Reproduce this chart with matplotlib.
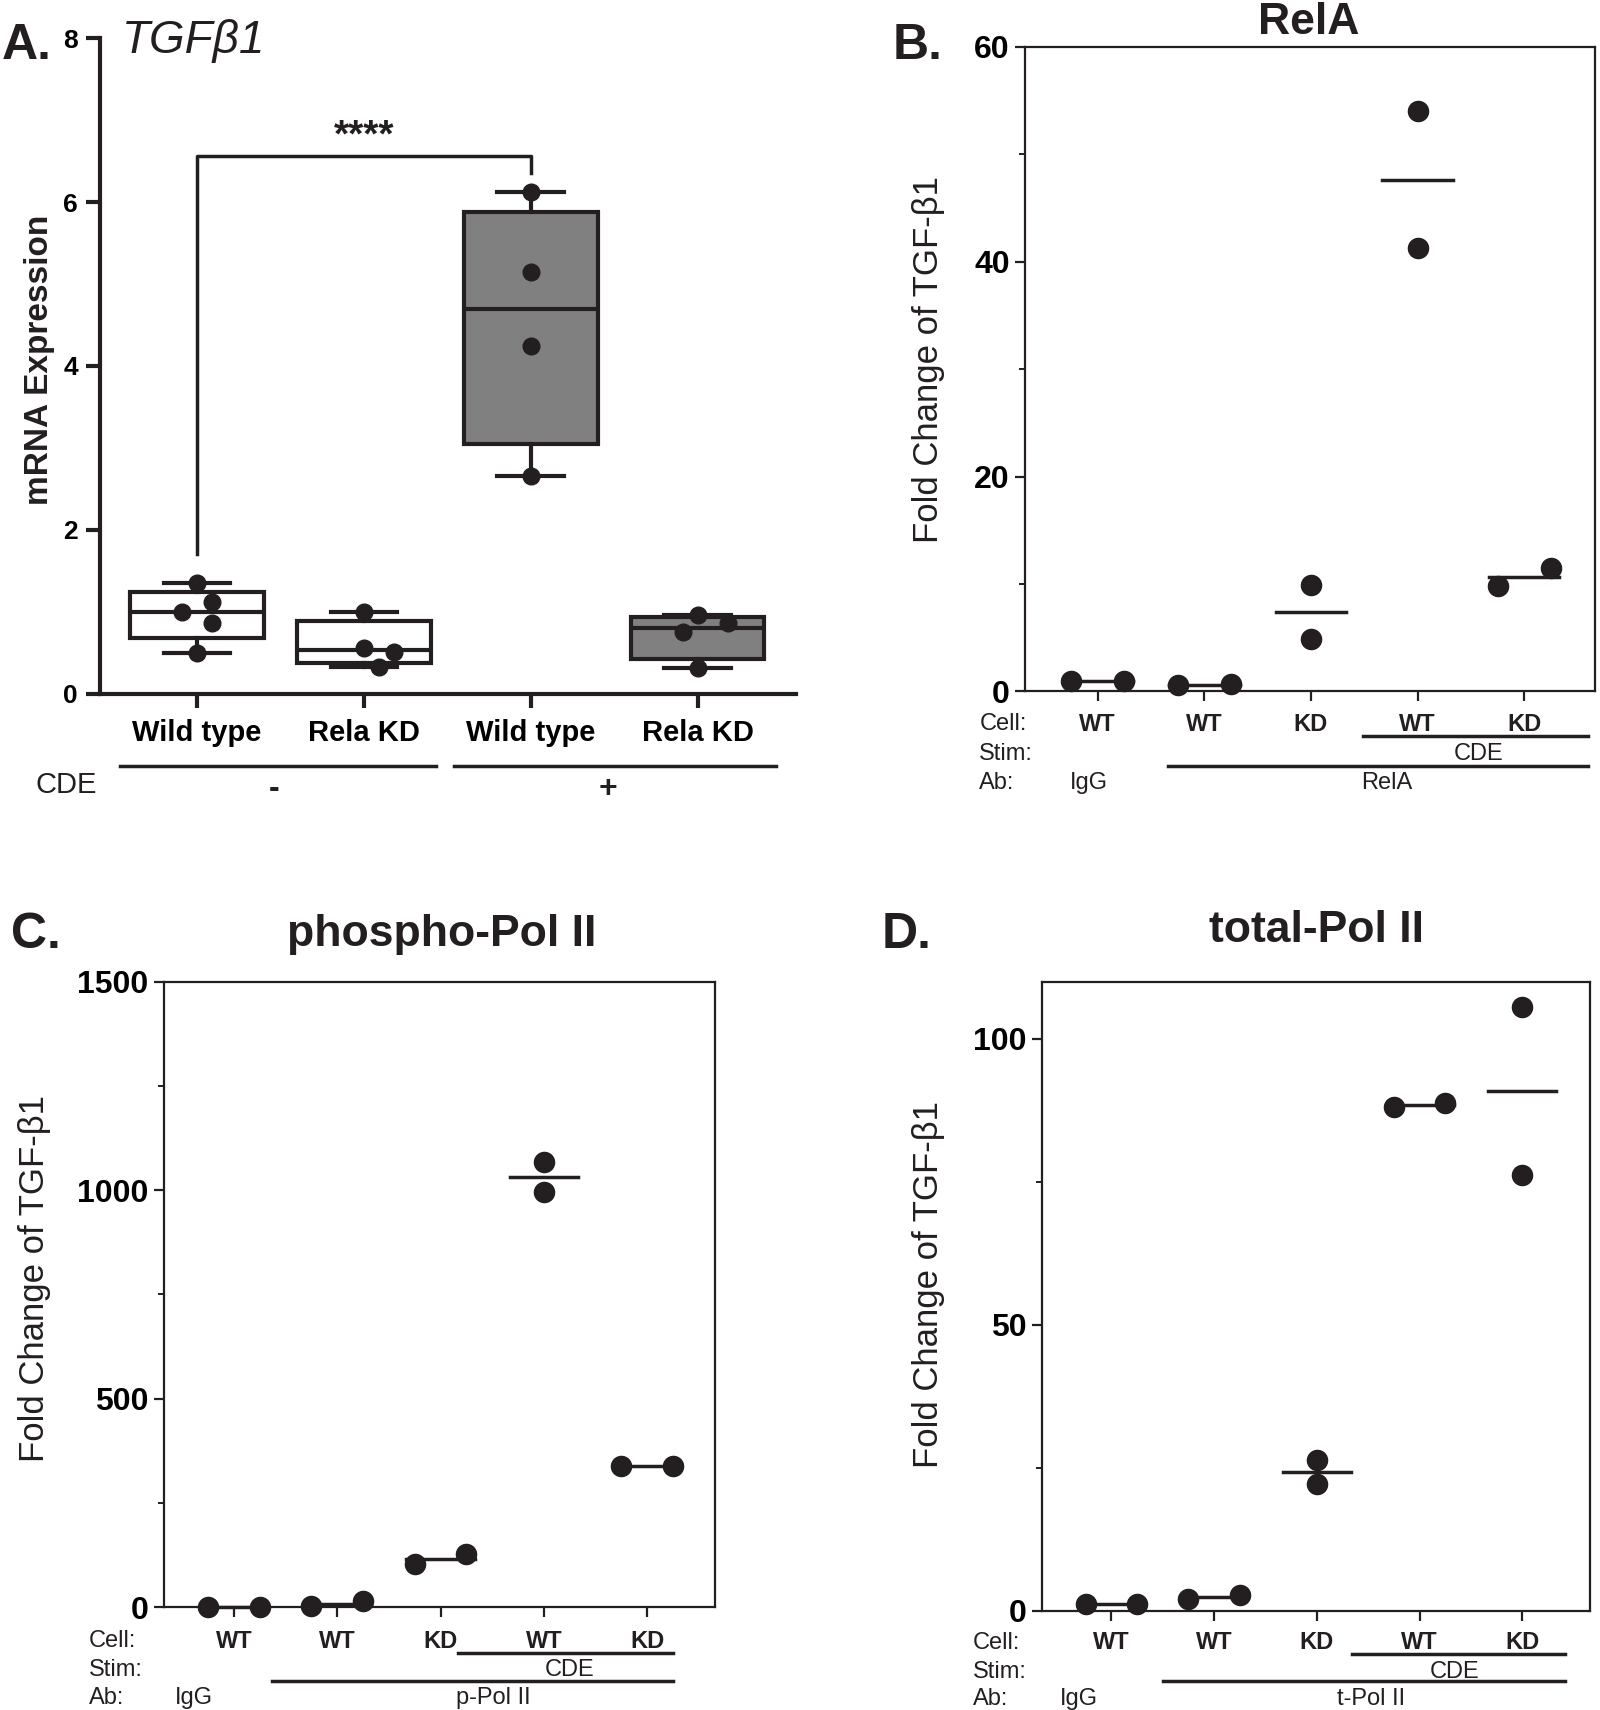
import numpy as np
import matplotlib
matplotlib.use('Agg')
import matplotlib.pyplot as plt

plt.rcParams['font.family'] = ['Liberation Sans', 'DejaVu Sans']

# ---- panel A data: TGFb1 mRNA expression
a_groups = ['Wild type', 'Rela KD', 'Wild type', 'Rela KD']
a_wt_minus = [1.35, 1.12, 1.0, 0.86, 0.49]
a_kd_minus = [0.99, 0.56, 0.51, 0.32]
a_wt_plus = [6.12, 5.14, 4.24, 2.65]
a_kd_plus = [0.96, 0.86, 0.75, 0.31]
a_cde = ['-', '+']
a_stars = '****'

# ---- panels B-D data: ChIP fold change, two replicates per group
cell_labels = ['WT', 'WT', 'KD', 'WT', 'KD']
relA_vals = [[1.0, 1.0], [0.6, 0.65], [9.9, 4.9], [54.0, 41.3], [9.8, 11.5]]
ppol_vals = [[1.0, 1.0], [2.5, 14.8], [105, 128], [1067, 996], [338, 340]]
tpol_vals = [[1.1, 1.1], [2.1, 2.7], [26.3, 22.2], [88.1, 88.7], [105.5, 76.2]]

BLACK = '#231f20'
GRAY = '#808080'

fig = plt.figure(figsize=(16, 17.1), dpi=100)


def frac(l, r, t, b):
    # pixel box of the shrunk reference -> figure fractions
    W, H = 1467.0, 1568.0
    return [l / W, 1 - b / H, (r - l) / W, (b - t) / H]


def swarm(ax, vals, step, min_px):
    offs = [0.0] * len(vals)
    placed = []
    order = sorted(range(len(vals)), key=lambda i: -vals[i])
    for i in order:
        for k in [0, 1, -1, 2, -2]:
            p = ax.transData.transform((k * step, vals[i]))
            if all(np.hypot(*(p - q)) >= min_px for q in placed):
                break
        placed.append(p)
        offs[i] = k * step
    return offs


# ================= Panel A =================
axA = fig.add_axes(frac(92, 730, 35, 636))
axA.set_xlim(-0.58, 3.59)
axA.set_ylim(0, 8)
a_data = [a_wt_minus, a_kd_minus, a_wt_plus, a_kd_plus]
stats = []
for vals in a_data:
    v = np.array(vals)
    q1, med, q3 = np.percentile(v, [25, 50, 75], method='weibull')
    stats.append({'q1': q1, 'med': med, 'q3': q3,
                  'whislo': v.min(), 'whishi': v.max(), 'fliers': []})
bp = axA.bxp(stats, positions=range(4), widths=0.8, patch_artist=True,
             showfliers=False,
             boxprops=dict(linewidth=3, edgecolor=BLACK),
             medianprops=dict(linewidth=3, color=BLACK),
             whiskerprops=dict(linewidth=3, color=BLACK),
             capprops=dict(linewidth=3, color=BLACK), capwidths=0.4)
for i, box in enumerate(bp['boxes']):
    box.set_facecolor(GRAY if i >= 2 else 'white')
for i, vals in enumerate(a_data):
    offs = swarm(axA, vals, 0.09, 20)
    axA.plot(np.array(offs) + i, vals, 'o', color=BLACK, ms=12, zorder=5,
             clip_on=False)

axA.spines['top'].set_visible(False)
axA.spines['right'].set_visible(False)
axA.spines['left'].set_linewidth(3)
axA.spines['bottom'].set_linewidth(3)
axA.spines['left'].set_color(BLACK)
axA.spines['bottom'].set_color(BLACK)
axA.set_yticks([0, 2, 4, 6, 8])
axA.set_xticks(range(4))
axA.set_xticklabels(a_groups, fontsize=21, fontweight='bold')
axA.tick_params(axis='both', width=3, length=10, color=BLACK)
axA.tick_params(axis='y', labelsize=19, pad=6)
axA.tick_params(axis='x', pad=8)
for t in axA.get_yticklabels():
    t.set_fontweight('bold')

# significance bracket
y_br = 6.56
axA.plot([0, 0, 2, 2], [1.70, y_br, y_br, 6.35], color=BLACK, lw=2.5)
axA.text(1, y_br + 0.02, a_stars, ha='center', va='bottom', fontsize=28,
         fontweight='bold', color=BLACK)

# CDE group lines
tr = axA.get_xaxis_transform()
for j, (x0, x1) in enumerate([(-0.46, 1.43), (1.54, 3.47)]):
    axA.plot([x0, x1], [-0.11, -0.11], transform=tr, color=BLACK, lw=2.5,
             clip_on=False)
    axA.text(0.46 + 2 * j, -0.145, a_cde[j], transform=tr, ha='center',
             va='center', fontsize=23, fontweight='bold', color=BLACK)
axA.text(-0.97, -0.14, 'CDE', transform=tr, ha='left', va='center',
         fontsize=21, color=BLACK)

fig.text(0.0245, 0.7895, 'mRNA Expression', rotation=90, ha='center',
         va='center', fontsize=24, fontweight='bold', color=BLACK)
fig.text(0.0763, 0.9758, 'TGF\u03b21', ha='left', va='center', fontsize=33,
         style='italic', color=BLACK)
fig.text(0.001, 0.973, 'A.', ha='left', va='center', fontsize=36,
         fontweight='bold', color=BLACK)


# ================= Panels B-D =================
def chip_panel(ax, vals, ymax, major, minor, stim_x, ab_x, ab_label, igg_x,
               cell_x, rows, lines, stim_lab_x, ab_lab_x):
    ax.set_xlim(-0.68, 4.66)
    ax.set_ylim(0, ymax)
    for i, pair in enumerate(vals):
        p0 = ax.transData.transform((0, pair[0]))
        p1 = ax.transData.transform((0, pair[1]))
        if abs(p0[1] - p1[1]) < 21:
            xs = [i - 0.25, i + 0.25]
        else:
            xs = [i, i]
        m = np.mean(pair)
        ax.plot([i - 0.33, i + 0.33], [m, m], color=BLACK, lw=2.5, zorder=3,
                clip_on=False)
        ax.plot(xs, pair, 'o', color=BLACK, ms=14.5, zorder=4, clip_on=False)
    for s in ax.spines.values():
        s.set_linewidth(1.6)
        s.set_color(BLACK)
    ax.set_yticks(major)
    ax.set_yticks(minor, minor=True)
    ax.set_xticks(range(5))
    ax.set_xticklabels([])
    ax.tick_params(axis='both', which='major', width=1.6, length=7,
                   color=BLACK, labelsize=23, pad=4)
    ax.tick_params(axis='y', which='minor', width=1.4, length=4,
                   color=BLACK)
    for t in ax.get_yticklabels():
        t.set_fontweight('bold')
    tr = ax.get_xaxis_transform()
    r_cell, r_stim, r_ab = rows
    l_stim, l_ab = lines
    kw = dict(transform=tr, va='center_baseline', fontsize=17, color=BLACK)
    for i, lab in enumerate(cell_labels):
        ax.text(i, r_cell, lab, ha='center', fontweight='bold', **kw)
    for lab, r in zip(['Cell:', 'Stim:', 'Ab:'], rows):
        ax.text(cell_x, r, lab, ha='left', **kw)
    ax.plot(stim_x, [l_stim, l_stim], transform=tr, color=BLACK, lw=2.5,
            clip_on=False)
    ax.plot(ab_x, [l_ab, l_ab], transform=tr, color=BLACK, lw=2.5,
            clip_on=False)
    ax.text(stim_lab_x, r_stim, 'CDE', ha='center', **kw)
    ax.text(igg_x, r_ab, 'IgG', ha='center', **kw)
    ax.text(ab_lab_x, r_ab, ab_label, ha='center', **kw)


axB = fig.add_axes(frac(940, 1462, 43, 634))
chip_panel(axB, relA_vals, 60, [0, 20, 40, 60], [10, 30, 50],
           [2.49, 4.6], [0.66, 4.6], 'RelA', -0.08, -1.11,
           (-0.047, -0.093, -0.138), (-0.069, -0.115), 3.57, 2.71)
axC = fig.add_axes(frac(150, 656, 900, 1474))
chip_panel(axC, ppol_vals, 1500, [0, 500, 1000, 1500], [250, 750, 1250],
           [2.17, 4.25], [0.37, 4.25], 'p-Pol II', -0.39, -1.40,
           (-0.050, -0.096, -0.140), (-0.073, -0.117), 3.25, 2.51)
axD = fig.add_axes(frac(955, 1458, 900, 1477))
chip_panel(axD, tpol_vals, 110, [0, 50, 100], [25, 75],
           [2.34, 4.41], [0.5, 4.41], 't-Pol II', -0.32, -1.35,
           (-0.047, -0.094, -0.137), (-0.069, -0.111), 3.34, 2.53)

ylab = 'Fold Change of TGF-\u03b21'
fig.text(0.5801, 0.7895, ylab, rotation=90, ha='center', va='center',
         fontsize=25, color=BLACK)
fig.text(0.0215, 0.2526, ylab, rotation=90, ha='center', va='center',
         fontsize=25, color=BLACK)
fig.text(0.5801, 0.2487, ylab, rotation=90, ha='center', va='center',
         fontsize=25, color=BLACK)

fig.text(0.818, 0.987, 'RelA', ha='center', va='center', fontsize=32,
         fontweight='bold', color=BLACK)
fig.text(0.276, 0.4534, 'phospho-Pol II', ha='center', va='center',
         fontsize=32, fontweight='bold', color=BLACK)
fig.text(0.8228, 0.456, 'total-Pol II', ha='center', va='center',
         fontsize=32, fontweight='bold', color=BLACK)

fig.text(0.5576, 0.973, 'B.', ha='left', va='center', fontsize=36,
         fontweight='bold', color=BLACK)
fig.text(0.0068, 0.4534, 'C.', ha='left', va='center', fontsize=36,
         fontweight='bold', color=BLACK)
fig.text(0.5508, 0.4534, 'D.', ha='left', va='center', fontsize=36,
         fontweight='bold', color=BLACK)

fig.savefig('out.png', dpi=100)
